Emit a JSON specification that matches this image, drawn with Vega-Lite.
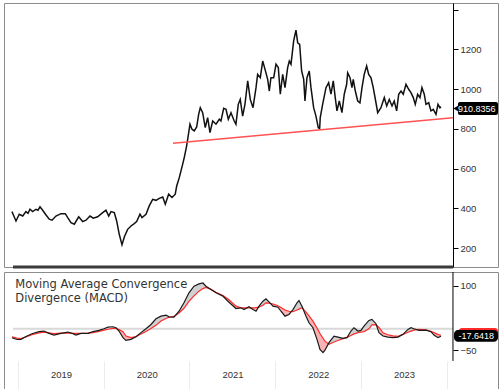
{
  "$schema": "https://vega.github.io/schema/vega-lite/v6.json",
  "padding": {"left": 3, "top": 2, "right": 3, "bottom": 4},
  "background": "white",
  "spacing": 2,
  "config": {
    "view": {"stroke": "#8c8c8c", "strokeWidth": 1},
    "axis": {"labelFont": "Liberation Sans"}
  },
  "datasets": {
    "price": [
      {"t": 2018.930, "v": 383}, {"t": 2018.953, "v": 360}, {"t": 2018.977, "v": 336}, {"t": 2019.015, "v": 370},
      {"t": 2019.055, "v": 361}, {"t": 2019.093, "v": 383}, {"t": 2019.117, "v": 375}, {"t": 2019.140, "v": 395},
      {"t": 2019.171, "v": 383}, {"t": 2019.210, "v": 395}, {"t": 2019.233, "v": 390}, {"t": 2019.257, "v": 407},
      {"t": 2019.288, "v": 390}, {"t": 2019.327, "v": 366}, {"t": 2019.365, "v": 345}, {"t": 2019.397, "v": 340},
      {"t": 2019.443, "v": 361}, {"t": 2019.501, "v": 373}, {"t": 2019.552, "v": 373}, {"t": 2019.580, "v": 353},
      {"t": 2019.618, "v": 328}, {"t": 2019.657, "v": 320}, {"t": 2019.708, "v": 357}, {"t": 2019.755, "v": 333},
      {"t": 2019.793, "v": 340}, {"t": 2019.840, "v": 361}, {"t": 2019.878, "v": 350}, {"t": 2019.929, "v": 357},
      {"t": 2019.988, "v": 378}, {"t": 2020.026, "v": 390}, {"t": 2020.058, "v": 361}, {"t": 2020.085, "v": 383},
      {"t": 2020.123, "v": 378}, {"t": 2020.151, "v": 336}, {"t": 2020.181, "v": 269}, {"t": 2020.213, "v": 216},
      {"t": 2020.242, "v": 258}, {"t": 2020.279, "v": 294}, {"t": 2020.318, "v": 311}, {"t": 2020.356, "v": 323},
      {"t": 2020.384, "v": 333}, {"t": 2020.423, "v": 370}, {"t": 2020.446, "v": 353}, {"t": 2020.493, "v": 370},
      {"t": 2020.531, "v": 412}, {"t": 2020.571, "v": 445}, {"t": 2020.609, "v": 440}, {"t": 2020.648, "v": 450},
      {"t": 2020.688, "v": 457}, {"t": 2020.718, "v": 420}, {"t": 2020.757, "v": 471}, {"t": 2020.796, "v": 454},
      {"t": 2020.834, "v": 471}, {"t": 2020.851, "v": 512}, {"t": 2020.881, "v": 554}, {"t": 2020.921, "v": 622},
      {"t": 2020.939, "v": 655}, {"t": 2020.967, "v": 714}, {"t": 2020.991, "v": 781}, {"t": 2021.006, "v": 823},
      {"t": 2021.029, "v": 798}, {"t": 2021.056, "v": 789}, {"t": 2021.084, "v": 809}, {"t": 2021.107, "v": 873},
      {"t": 2021.126, "v": 906}, {"t": 2021.154, "v": 881}, {"t": 2021.184, "v": 806}, {"t": 2021.212, "v": 856},
      {"t": 2021.239, "v": 781}, {"t": 2021.271, "v": 839}, {"t": 2021.309, "v": 823}, {"t": 2021.348, "v": 848},
      {"t": 2021.367, "v": 839}, {"t": 2021.399, "v": 903}, {"t": 2021.426, "v": 898}, {"t": 2021.453, "v": 848},
      {"t": 2021.484, "v": 881}, {"t": 2021.522, "v": 839}, {"t": 2021.542, "v": 823}, {"t": 2021.569, "v": 923},
      {"t": 2021.592, "v": 948}, {"t": 2021.620, "v": 864}, {"t": 2021.647, "v": 923}, {"t": 2021.679, "v": 1041},
      {"t": 2021.709, "v": 948}, {"t": 2021.741, "v": 906}, {"t": 2021.776, "v": 1007}, {"t": 2021.795, "v": 1074},
      {"t": 2021.826, "v": 1057}, {"t": 2021.854, "v": 1141}, {"t": 2021.881, "v": 1099}, {"t": 2021.912, "v": 1049},
      {"t": 2021.931, "v": 990}, {"t": 2021.950, "v": 1057}, {"t": 2021.982, "v": 1057}, {"t": 2022.009, "v": 1125},
      {"t": 2022.036, "v": 1108}, {"t": 2022.059, "v": 974}, {"t": 2022.087, "v": 1074}, {"t": 2022.114, "v": 1007},
      {"t": 2022.145, "v": 1108}, {"t": 2022.164, "v": 1141}, {"t": 2022.184, "v": 1125}, {"t": 2022.215, "v": 1242},
      {"t": 2022.242, "v": 1296}, {"t": 2022.262, "v": 1233}, {"t": 2022.285, "v": 1225}, {"t": 2022.308, "v": 1091},
      {"t": 2022.332, "v": 1049}, {"t": 2022.347, "v": 940}, {"t": 2022.370, "v": 1057}, {"t": 2022.397, "v": 1091},
      {"t": 2022.417, "v": 1007}, {"t": 2022.448, "v": 906}, {"t": 2022.475, "v": 864}, {"t": 2022.502, "v": 806},
      {"t": 2022.518, "v": 800}, {"t": 2022.525, "v": 856}, {"t": 2022.553, "v": 923}, {"t": 2022.592, "v": 1007},
      {"t": 2022.623, "v": 1032}, {"t": 2022.650, "v": 974}, {"t": 2022.677, "v": 1041}, {"t": 2022.700, "v": 957},
      {"t": 2022.720, "v": 890}, {"t": 2022.747, "v": 940}, {"t": 2022.778, "v": 881}, {"t": 2022.805, "v": 974},
      {"t": 2022.833, "v": 1024}, {"t": 2022.845, "v": 1082}, {"t": 2022.872, "v": 1057}, {"t": 2022.895, "v": 1007},
      {"t": 2022.910, "v": 1049}, {"t": 2022.934, "v": 990}, {"t": 2022.962, "v": 940}, {"t": 2022.988, "v": 931},
      {"t": 2023.012, "v": 1007}, {"t": 2023.038, "v": 1074}, {"t": 2023.066, "v": 1116}, {"t": 2023.090, "v": 1074},
      {"t": 2023.117, "v": 1057}, {"t": 2023.143, "v": 1007}, {"t": 2023.175, "v": 931}, {"t": 2023.195, "v": 881},
      {"t": 2023.233, "v": 906}, {"t": 2023.272, "v": 957}, {"t": 2023.300, "v": 915}, {"t": 2023.330, "v": 948},
      {"t": 2023.362, "v": 915}, {"t": 2023.388, "v": 940}, {"t": 2023.416, "v": 890}, {"t": 2023.440, "v": 974},
      {"t": 2023.467, "v": 990}, {"t": 2023.493, "v": 974}, {"t": 2023.525, "v": 1024}, {"t": 2023.556, "v": 999},
      {"t": 2023.583, "v": 982}, {"t": 2023.610, "v": 957}, {"t": 2023.633, "v": 923}, {"t": 2023.661, "v": 974},
      {"t": 2023.688, "v": 957}, {"t": 2023.711, "v": 1007}, {"t": 2023.738, "v": 974}, {"t": 2023.758, "v": 923},
      {"t": 2023.790, "v": 931}, {"t": 2023.816, "v": 890}, {"t": 2023.843, "v": 898}, {"t": 2023.875, "v": 873},
      {"t": 2023.898, "v": 923}, {"t": 2023.921, "v": 906}, {"t": 2023.933, "v": 911}
    ],
    "macd": [
      {"t": 2018.930, "m": -21, "s": -19}, {"t": 2018.988, "m": -25, "s": -22}, {"t": 2019.035, "m": -24.7, "s": -23},
      {"t": 2019.093, "m": -18, "s": -19.3}, {"t": 2019.163, "m": -11.5, "s": -14}, {"t": 2019.245, "m": -6.7, "s": -9.5},
      {"t": 2019.303, "m": -5.3, "s": -7.8}, {"t": 2019.362, "m": -10.7, "s": -9.5}, {"t": 2019.420, "m": -14.6, "s": -11.2},
      {"t": 2019.501, "m": -10.7, "s": -10.3}, {"t": 2019.583, "m": -7.6, "s": -10.2}, {"t": 2019.641, "m": -11.4, "s": -10.7},
      {"t": 2019.676, "m": -14.6, "s": -10.7}, {"t": 2019.735, "m": -10.7, "s": -10.7}, {"t": 2019.816, "m": -10.7, "s": -10},
      {"t": 2019.875, "m": -6.8, "s": -9}, {"t": 2019.945, "m": -3.7, "s": -6}, {"t": 2020.003, "m": 0, "s": -3},
      {"t": 2020.050, "m": 4, "s": -1}, {"t": 2020.108, "m": 4.8, "s": 1}, {"t": 2020.143, "m": 2.5, "s": 1},
      {"t": 2020.178, "m": -5.3, "s": -2}, {"t": 2020.225, "m": -20.7, "s": -7}, {"t": 2020.259, "m": -27, "s": -17},
      {"t": 2020.318, "m": -24.6, "s": -20.7}, {"t": 2020.376, "m": -18.4, "s": -18.5}, {"t": 2020.434, "m": -9, "s": -12},
      {"t": 2020.493, "m": 0, "s": -6.5}, {"t": 2020.551, "m": 10, "s": 0.5}, {"t": 2020.609, "m": 23.4, "s": 8},
      {"t": 2020.668, "m": 29.6, "s": 18}, {"t": 2020.726, "m": 32, "s": 24}, {"t": 2020.761, "m": 28, "s": 27},
      {"t": 2020.819, "m": 27, "s": 29}, {"t": 2020.878, "m": 41, "s": 37}, {"t": 2020.936, "m": 60.7, "s": 48},
      {"t": 2020.994, "m": 84, "s": 64}, {"t": 2021.053, "m": 99.4, "s": 77}, {"t": 2021.111, "m": 105, "s": 88},
      {"t": 2021.157, "m": 107, "s": 94}, {"t": 2021.192, "m": 99.4, "s": 96.5}, {"t": 2021.251, "m": 91.6, "s": 92},
      {"t": 2021.309, "m": 84, "s": 85.5}, {"t": 2021.391, "m": 76, "s": 78}, {"t": 2021.461, "m": 62, "s": 68},
      {"t": 2021.542, "m": 47.4, "s": 53}, {"t": 2021.601, "m": 49, "s": 49}, {"t": 2021.636, "m": 45, "s": 49},
      {"t": 2021.694, "m": 51.4, "s": 49}, {"t": 2021.741, "m": 45, "s": 49}, {"t": 2021.776, "m": 41, "s": 49.5},
      {"t": 2021.811, "m": 52.8, "s": 50.5}, {"t": 2021.857, "m": 64.4, "s": 55}, {"t": 2021.892, "m": 70, "s": 60.7},
      {"t": 2021.927, "m": 63, "s": 60}, {"t": 2021.974, "m": 52.8, "s": 58}, {"t": 2022.032, "m": 50.5, "s": 54},
      {"t": 2022.067, "m": 41, "s": 50}, {"t": 2022.114, "m": 29.5, "s": 44}, {"t": 2022.160, "m": 33.5, "s": 41},
      {"t": 2022.207, "m": 45, "s": 39.8}, {"t": 2022.254, "m": 60.7, "s": 44}, {"t": 2022.277, "m": 66, "s": 46},
      {"t": 2022.312, "m": 52.8, "s": 49}, {"t": 2022.359, "m": 29.5, "s": 39}, {"t": 2022.394, "m": 14, "s": 30},
      {"t": 2022.440, "m": 2.5, "s": 18}, {"t": 2022.487, "m": -24.7, "s": 2}, {"t": 2022.522, "m": -48, "s": -11},
      {"t": 2022.557, "m": -55.6, "s": -22}, {"t": 2022.580, "m": -50, "s": -29}, {"t": 2022.627, "m": -32.4, "s": -36},
      {"t": 2022.685, "m": -17, "s": -31}, {"t": 2022.732, "m": -19.3, "s": -27.5}, {"t": 2022.790, "m": -22.3, "s": -23},
      {"t": 2022.837, "m": -20.7, "s": -20}, {"t": 2022.883, "m": -5.3, "s": -15.5}, {"t": 2022.918, "m": 2.5, "s": -12},
      {"t": 2022.965, "m": -5.3, "s": -9}, {"t": 2023.000, "m": -3.7, "s": -8}, {"t": 2023.035, "m": 6.3, "s": -6.5},
      {"t": 2023.093, "m": 19.5, "s": 0}, {"t": 2023.128, "m": 21.9, "s": 9}, {"t": 2023.175, "m": 11.9, "s": 9.5},
      {"t": 2023.210, "m": -9, "s": 3}, {"t": 2023.257, "m": -17, "s": -9.5}, {"t": 2023.315, "m": -19.3, "s": -14},
      {"t": 2023.373, "m": -20.7, "s": -16.5}, {"t": 2023.432, "m": -19.3, "s": -17.5}, {"t": 2023.490, "m": -13, "s": -13},
      {"t": 2023.548, "m": -1.4, "s": -8}, {"t": 2023.583, "m": 2.5, "s": -5.5}, {"t": 2023.618, "m": 0, "s": -3},
      {"t": 2023.676, "m": -3.7, "s": -1.4}, {"t": 2023.758, "m": -3, "s": -2.5}, {"t": 2023.816, "m": -6.8, "s": -6},
      {"t": 2023.851, "m": -14.6, "s": -9}, {"t": 2023.898, "m": -20.7, "s": -13}, {"t": 2023.933, "m": -17.6, "s": -15}
    ],
    "fill": [
      {"t": 2020.150, "m": 1.5, "s": 1.5, "seg": 1, "sign": "neg"}, {"t": 2020.178, "m": -5.3, "s": -2, "seg": 1, "sign": "neg"},
      {"t": 2020.225, "m": -20.7, "s": -7, "seg": 1, "sign": "neg"}, {"t": 2020.259, "m": -27, "s": -17, "seg": 1, "sign": "neg"},
      {"t": 2020.318, "m": -24.6, "s": -20.7, "seg": 1, "sign": "neg"}, {"t": 2020.376, "m": -18.5, "s": -18.5, "seg": 1, "sign": "neg"},
      {"t": 2020.376, "m": -18.5, "s": -18.5, "seg": 2, "sign": "pos"}, {"t": 2020.434, "m": -9, "s": -12, "seg": 2, "sign": "pos"},
      {"t": 2020.493, "m": 0, "s": -6.5, "seg": 2, "sign": "pos"}, {"t": 2020.551, "m": 10, "s": 0.5, "seg": 2, "sign": "pos"},
      {"t": 2020.609, "m": 23.4, "s": 8, "seg": 2, "sign": "pos"}, {"t": 2020.668, "m": 29.6, "s": 18, "seg": 2, "sign": "pos"},
      {"t": 2020.726, "m": 32, "s": 24, "seg": 2, "sign": "pos"}, {"t": 2020.761, "m": 28, "s": 27, "seg": 2, "sign": "pos"},
      {"t": 2020.778, "m": 27.5, "s": 27.5, "seg": 2, "sign": "pos"},
      {"t": 2020.778, "m": 27.5, "s": 27.5, "seg": 3, "sign": "neg"}, {"t": 2020.819, "m": 27, "s": 29, "seg": 3, "sign": "neg"},
      {"t": 2020.843, "m": 33, "s": 33, "seg": 3, "sign": "neg"},
      {"t": 2020.843, "m": 33, "s": 33, "seg": 4, "sign": "pos"}, {"t": 2020.878, "m": 41, "s": 37, "seg": 4, "sign": "pos"},
      {"t": 2020.936, "m": 60.7, "s": 48, "seg": 4, "sign": "pos"}, {"t": 2020.994, "m": 84, "s": 64, "seg": 4, "sign": "pos"},
      {"t": 2021.053, "m": 99.4, "s": 77, "seg": 4, "sign": "pos"}, {"t": 2021.111, "m": 105, "s": 88, "seg": 4, "sign": "pos"},
      {"t": 2021.157, "m": 107, "s": 94, "seg": 4, "sign": "pos"}, {"t": 2021.192, "m": 99.4, "s": 96.5, "seg": 4, "sign": "pos"},
      {"t": 2021.245, "m": 92, "s": 92, "seg": 4, "sign": "pos"},
      {"t": 2021.245, "m": 92, "s": 92, "seg": 5, "sign": "neg"}, {"t": 2021.251, "m": 91.6, "s": 92, "seg": 5, "sign": "neg"},
      {"t": 2021.309, "m": 84, "s": 85.5, "seg": 5, "sign": "neg"}, {"t": 2021.391, "m": 76, "s": 78, "seg": 5, "sign": "neg"},
      {"t": 2021.461, "m": 62, "s": 68, "seg": 5, "sign": "neg"}, {"t": 2021.542, "m": 47.4, "s": 53, "seg": 5, "sign": "neg"},
      {"t": 2021.601, "m": 49, "s": 49, "seg": 5, "sign": "neg"}, {"t": 2021.636, "m": 45, "s": 49, "seg": 5, "sign": "neg"},
      {"t": 2021.672, "m": 49.5, "s": 49.5, "seg": 5, "sign": "neg"},
      {"t": 2021.672, "m": 49.5, "s": 49.5, "seg": 7, "sign": "pos"}, {"t": 2021.694, "m": 51.4, "s": 49, "seg": 7, "sign": "pos"},
      {"t": 2021.711, "m": 49, "s": 49, "seg": 7, "sign": "pos"},
      {"t": 2021.711, "m": 49, "s": 49, "seg": 8, "sign": "neg"}, {"t": 2021.741, "m": 45, "s": 49, "seg": 8, "sign": "neg"},
      {"t": 2021.776, "m": 41, "s": 49.5, "seg": 8, "sign": "neg"}, {"t": 2021.797, "m": 50, "s": 50, "seg": 8, "sign": "neg"},
      {"t": 2021.797, "m": 50, "s": 50, "seg": 9, "sign": "pos"}, {"t": 2021.811, "m": 52.8, "s": 50.5, "seg": 9, "sign": "pos"},
      {"t": 2021.857, "m": 64.4, "s": 55, "seg": 9, "sign": "pos"}, {"t": 2021.892, "m": 70, "s": 60.7, "seg": 9, "sign": "pos"},
      {"t": 2021.927, "m": 63, "s": 60, "seg": 9, "sign": "pos"}, {"t": 2021.950, "m": 59, "s": 59, "seg": 9, "sign": "pos"},
      {"t": 2021.950, "m": 59, "s": 59, "seg": 10, "sign": "neg"}, {"t": 2021.974, "m": 52.8, "s": 58, "seg": 10, "sign": "neg"},
      {"t": 2022.032, "m": 50.5, "s": 54, "seg": 10, "sign": "neg"}, {"t": 2022.067, "m": 41, "s": 50, "seg": 10, "sign": "neg"},
      {"t": 2022.114, "m": 29.5, "s": 44, "seg": 10, "sign": "neg"}, {"t": 2022.160, "m": 33.5, "s": 41, "seg": 10, "sign": "neg"},
      {"t": 2022.184, "m": 40, "s": 40, "seg": 10, "sign": "neg"},
      {"t": 2022.184, "m": 40, "s": 40, "seg": 11, "sign": "pos"}, {"t": 2022.207, "m": 45, "s": 39.8, "seg": 11, "sign": "pos"},
      {"t": 2022.254, "m": 60.7, "s": 44, "seg": 11, "sign": "pos"}, {"t": 2022.277, "m": 66, "s": 46, "seg": 11, "sign": "pos"},
      {"t": 2022.312, "m": 52.8, "s": 49, "seg": 11, "sign": "pos"}, {"t": 2022.326, "m": 48, "s": 48, "seg": 11, "sign": "pos"},
      {"t": 2022.326, "m": 48, "s": 48, "seg": 12, "sign": "neg"}, {"t": 2022.359, "m": 29.5, "s": 39, "seg": 12, "sign": "neg"},
      {"t": 2022.394, "m": 14, "s": 30, "seg": 12, "sign": "neg"}, {"t": 2022.440, "m": 2.5, "s": 18, "seg": 12, "sign": "neg"},
      {"t": 2022.487, "m": -24.7, "s": 2, "seg": 12, "sign": "neg"}, {"t": 2022.522, "m": -48, "s": -11, "seg": 12, "sign": "neg"},
      {"t": 2022.557, "m": -55.6, "s": -22, "seg": 12, "sign": "neg"}, {"t": 2022.580, "m": -50, "s": -29, "seg": 12, "sign": "neg"},
      {"t": 2022.620, "m": -35, "s": -35, "seg": 12, "sign": "neg"},
      {"t": 2022.620, "m": -35, "s": -35, "seg": 13, "sign": "pos"}, {"t": 2022.627, "m": -32.4, "s": -36, "seg": 13, "sign": "pos"},
      {"t": 2022.685, "m": -17, "s": -31, "seg": 13, "sign": "pos"}, {"t": 2022.732, "m": -19.3, "s": -27.5, "seg": 13, "sign": "pos"},
      {"t": 2022.790, "m": -22.3, "s": -23, "seg": 13, "sign": "pos"}, {"t": 2022.813, "m": -21.5, "s": -21.5, "seg": 13, "sign": "pos"},
      {"t": 2022.848, "m": -19, "s": -19, "seg": 14, "sign": "pos"}, {"t": 2022.883, "m": -5.3, "s": -15.5, "seg": 14, "sign": "pos"},
      {"t": 2022.918, "m": 2.5, "s": -12, "seg": 14, "sign": "pos"}, {"t": 2022.965, "m": -5.3, "s": -9, "seg": 14, "sign": "pos"},
      {"t": 2023.000, "m": -3.7, "s": -8, "seg": 14, "sign": "pos"}, {"t": 2023.035, "m": 6.3, "s": -6.5, "seg": 14, "sign": "pos"},
      {"t": 2023.093, "m": 19.5, "s": 0, "seg": 14, "sign": "pos"}, {"t": 2023.128, "m": 21.9, "s": 9, "seg": 14, "sign": "pos"},
      {"t": 2023.175, "m": 11.9, "s": 9.5, "seg": 14, "sign": "pos"}, {"t": 2023.181, "m": 9, "s": 9, "seg": 14, "sign": "pos"},
      {"t": 2023.181, "m": 9, "s": 9, "seg": 15, "sign": "neg"}, {"t": 2023.210, "m": -9, "s": 3, "seg": 15, "sign": "neg"},
      {"t": 2023.257, "m": -17, "s": -9.5, "seg": 15, "sign": "neg"}, {"t": 2023.315, "m": -19.3, "s": -14, "seg": 15, "sign": "neg"},
      {"t": 2023.373, "m": -20.7, "s": -16.5, "seg": 15, "sign": "neg"}, {"t": 2023.432, "m": -19.3, "s": -17.5, "seg": 15, "sign": "neg"},
      {"t": 2023.490, "m": -13, "s": -13, "seg": 15, "sign": "neg"},
      {"t": 2023.490, "m": -13, "s": -13, "seg": 16, "sign": "pos"}, {"t": 2023.548, "m": -1.4, "s": -8, "seg": 16, "sign": "pos"},
      {"t": 2023.583, "m": 2.5, "s": -5.5, "seg": 16, "sign": "pos"}, {"t": 2023.618, "m": 0, "s": -3, "seg": 16, "sign": "pos"},
      {"t": 2023.651, "m": -2, "s": -2, "seg": 16, "sign": "pos"},
      {"t": 2023.651, "m": -2, "s": -2, "seg": 17, "sign": "neg"}, {"t": 2023.676, "m": -3.7, "s": -1.4, "seg": 17, "sign": "neg"},
      {"t": 2023.758, "m": -3, "s": -2.5, "seg": 17, "sign": "neg"}, {"t": 2023.816, "m": -6.8, "s": -6, "seg": 17, "sign": "neg"},
      {"t": 2023.851, "m": -14.6, "s": -9, "seg": 17, "sign": "neg"}, {"t": 2023.898, "m": -20.7, "s": -13, "seg": 17, "sign": "neg"},
      {"t": 2023.933, "m": -17.6, "s": -15, "seg": 17, "sign": "neg"}
    ]
  },
  "vconcat": [
    {
      "width": 494,
      "height": 264,
      "layer": [
        {
          "data": {"name": "price"},
          "mark": {"type": "line", "color": "#111111", "strokeWidth": 1.5},
          "encoding": {
            "x": {"field": "t", "type": "quantitative", "scale": {"domain": [2018.837, 2024.598], "nice": false, "zero": false}, "axis": null},
            "y": {
              "field": "v", "type": "quantitative",
              "scale": {"domain": [104.4, 1433], "nice": false, "zero": false},
              "axis": {
                "orient": "right", "offset": -45, "title": null, "grid": false,
                "values": [200, 400, 600, 800, 1000, 1200, 1400],
                "labelExpr": "datum.value == 1400 ? '' : format(datum.value, 'd')",
                "domainColor": "#000000", "tickColor": "#000000", "tickSize": 5, "tickWidth": 1,
                "labelFontSize": 9.5, "labelColor": "#333333", "labelPadding": 2
              }
            }
          }
        },
        {
          "data": {"values": [{}]},
          "mark": {"type": "rule", "color": "#ff5252", "strokeWidth": 1.5},
          "encoding": {"x": {"datum": 2020.808}, "x2": {"datum": 2024.073}, "y": {"datum": 727}, "y2": {"datum": 855}}
        },
        {
          "data": {"values": [{}]},
          "mark": {"type": "rule", "color": "#3a3a3a", "strokeWidth": 3},
          "encoding": {"x": {"datum": 2018.942}, "x2": {"datum": 2024.073}, "y": {"datum": 104.4}}
        },
        {
          "data": {"values": [{}]},
          "mark": {"type": "rect", "color": "#000000", "cornerRadius": 2},
          "encoding": {"x": {"datum": 2024.131}, "x2": {"datum": 2024.598}, "y": {"datum": 934.8}, "y2": {"datum": 869.4}}
        },
        {
          "data": {"values": [{}]},
          "mark": {"type": "point", "shape": "triangle-left", "filled": true, "color": "#000000", "size": 70, "opacity": 1},
          "encoding": {"x": {"datum": 2024.12}, "y": {"datum": 902}}
        },
        {
          "data": {"values": [{}]},
          "mark": {"type": "text", "text": "910.8356", "color": "#ffffff", "font": "Liberation Sans", "fontSize": 9, "align": "left", "baseline": "middle", "dx": 0},
          "encoding": {"x": {"datum": 2024.131}, "y": {"datum": 902}}
        }
      ]
    },
    {
      "width": 494,
      "height": 117,
      "layer": [
        {
          "data": {"values": [{}]},
          "mark": {"type": "rule", "color": "#d9d9d9", "strokeWidth": 2},
          "encoding": {"x": {"datum": 2018.942}, "x2": {"datum": 2024.073}, "y": {"datum": 0}}
        },
        {
          "data": {"name": "fill"},
          "mark": {"type": "area", "opacity": 1},
          "encoding": {
            "x": {
              "field": "t", "type": "quantitative",
              "scale": {"domain": [2018.837, 2024.598], "nice": false, "zero": false},
              "axis": {
                "orient": "bottom", "offset": -28, "title": null, "grid": false, "domain": false,
                "values": [2019, 2020, 2021, 2022, 2023, 2024],
                "labelExpr": "datum.value >= 2024 ? '' : format(datum.value, 'd')",
                "tickSize": 28, "tickColor": "#ececec", "tickWidth": 1,
                "labelOffset": 43, "labelPadding": -20, "labelFlush": false, "labelOverlap": false,
                "labelFontSize": 9.5, "labelColor": "#333333"
              }
            },
            "y": {
              "field": "m", "type": "quantitative",
              "scale": {"domain": [-140.7, 132.7], "nice": false, "zero": false},
              "axis": {
                "orient": "right", "offset": -45, "title": null, "grid": false, "domain": false,
                "values": [-50, 0, 50, 100],
                "tickColor": "#000000", "tickSize": 5, "tickWidth": 1,
                "labelFontSize": 9.5, "labelColor": "#333333", "labelPadding": 2
              }
            },
            "y2": {"field": "s"},
            "color": {"field": "sign", "type": "nominal", "scale": {"domain": ["pos", "neg"], "range": ["#d0d0d0", "#f8b4b4"]}, "legend": null},
            "detail": {"field": "seg", "type": "nominal"}
          }
        },
        {
          "data": {"name": "macd"},
          "mark": {"type": "line", "color": "#ff2a2a", "strokeWidth": 1.2},
          "encoding": {"x": {"field": "t", "type": "quantitative"}, "y": {"field": "s", "type": "quantitative"}}
        },
        {
          "data": {"name": "macd"},
          "mark": {"type": "line", "color": "#1a1a1a", "strokeWidth": 1.2},
          "encoding": {"x": {"field": "t", "type": "quantitative"}, "y": {"field": "m", "type": "quantitative"}}
        },
        {
          "data": {"values": [{}]},
          "mark": {"type": "rule", "color": "#000000", "strokeWidth": 1},
          "encoding": {"x": {"datum": 2024.073}, "y": {"datum": 132.7}, "y2": {"datum": -75.2}}
        },
        {
          "data": {"values": [{}]},
          "mark": {"type": "text", "text": ["Moving Average Convergence", "Divergence (MACD)"], "align": "left", "baseline": "top", "font": "DejaVu Sans", "fontSize": 11.5, "lineHeight": 14.5, "color": "#333333"},
          "encoding": {"x": {"datum": 2018.969}, "y": {"datum": 116.8}}
        },
        {
          "data": {"values": [{}]},
          "mark": {"type": "rect", "color": "#ff2a2a", "cornerRadius": 3},
          "encoding": {"x": {"datum": 2024.14}, "x2": {"datum": 2024.598}, "y": {"datum": 1.9}, "y2": {"datum": -26.2}}
        },
        {
          "data": {"values": [{}]},
          "mark": {"type": "rect", "color": "#000000", "cornerRadius": 4},
          "encoding": {"x": {"datum": 2024.085}, "x2": {"datum": 2024.598}, "y": {"datum": -2.8}, "y2": {"datum": -30.1}}
        },
        {
          "data": {"values": [{}]},
          "mark": {"type": "text", "text": "-17.6418", "color": "#ffffff", "font": "Liberation Sans", "fontSize": 9, "align": "left", "baseline": "middle", "dx": 0},
          "encoding": {"x": {"datum": 2024.136}, "y": {"datum": -16.3}}
        }
      ]
    }
  ]
}
